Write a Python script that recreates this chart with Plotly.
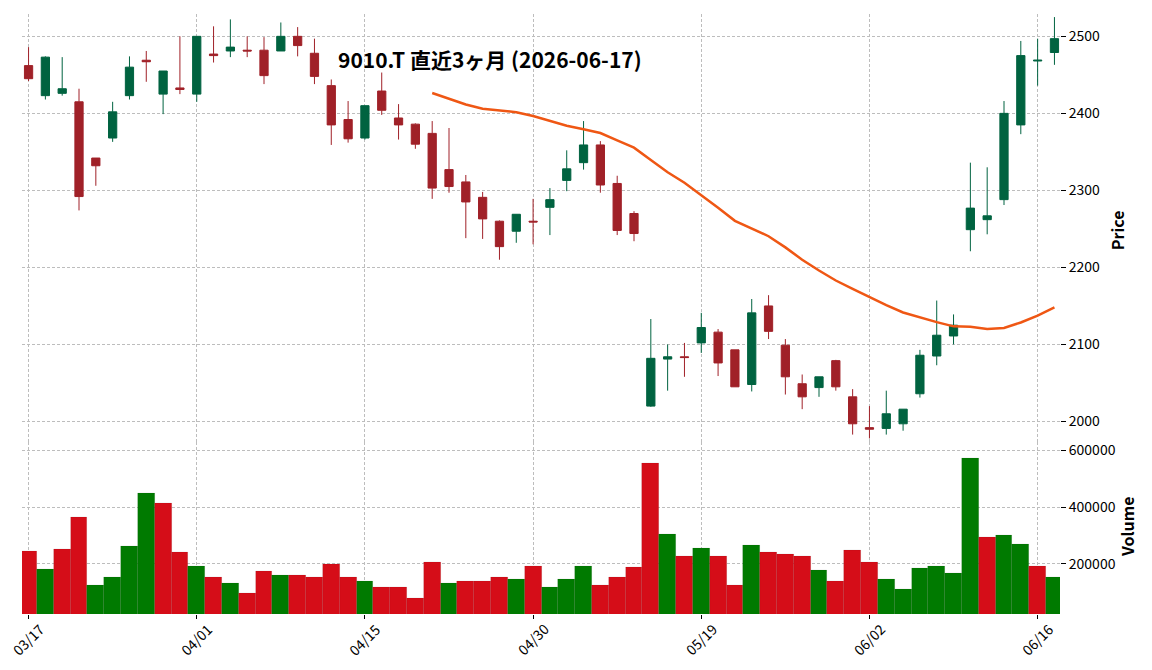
import plotly.graph_objects as go

dates = ["03/17", "03/18", "03/19", "03/23", "03/24", "03/25", "03/26", "03/27", "03/30", "03/31",
         "04/01", "04/02", "04/03", "04/06", "04/07", "04/08", "04/09", "04/10", "04/13", "04/14",
         "04/15", "04/16", "04/17", "04/20", "04/21", "04/22", "04/23", "04/24", "04/27", "04/28",
         "04/30", "05/01", "05/07", "05/08", "05/11", "05/12", "05/13", "05/14", "05/15", "05/18",
         "05/19", "05/20", "05/21", "05/22", "05/25", "05/26", "05/27", "05/28", "05/29", "06/01",
         "06/02", "06/03", "06/04", "06/05", "06/08", "06/09", "06/10", "06/11", "06/12", "06/15",
         "06/16", "06/17"]

opens = [2462, 2423, 2426, 2415, 2342, 2368, 2423, 2469, 2425, 2433,
         2425, 2477, 2481, 2482, 2482, 2481, 2500, 2478, 2436, 2392,
         2368, 2429, 2394, 2386, 2374, 2327, 2311, 2291, 2260, 2247,
         2260, 2278, 2313, 2336, 2359, 2309, 2270, 2020, 2081, 2084,
         2102, 2116, 2093, 2048, 2150, 2099, 2049, 2044, 2079, 2032,
         1992, 1991, 1997, 2036, 2085, 2111, 2249, 2262, 2288, 2385,
         2468, 2479]
highs = [2486, 2474, 2473, 2432, 2342, 2415, 2474, 2481, 2455, 2500,
         2500, 2513, 2522, 2500, 2499, 2518, 2512, 2497, 2444, 2416,
         2410, 2453, 2412, 2387, 2390, 2381, 2320, 2298, 2261, 2269,
         2289, 2303, 2352, 2390, 2364, 2319, 2273, 2133, 2100, 2102,
         2141, 2120, 2093, 2159, 2164, 2107, 2061, 2058, 2080, 2042,
         2020, 2040, 2016, 2093, 2157, 2139, 2336, 2330, 2416, 2494,
         2497, 2525]
lows = [2442, 2418, 2423, 2274, 2306, 2363, 2418, 2441, 2399, 2425,
        2415, 2466, 2473, 2473, 2438, 2481, 2474, 2438, 2359, 2362,
        2366, 2398, 2366, 2354, 2289, 2297, 2238, 2237, 2210, 2232,
        2230, 2242, 2299, 2327, 2297, 2242, 2234, 2019, 2040, 2058,
        2089, 2059, 2045, 2039, 2107, 2035, 2016, 2032, 2040, 1983,
        1978, 1983, 1988, 2031, 2073, 2100, 2221, 2243, 2281, 2373,
        2436, 2463]
closes = [2445, 2473, 2432, 2292, 2332, 2402, 2460, 2467, 2455, 2431,
          2500, 2475, 2486, 2481, 2449, 2500, 2488, 2448, 2385, 2367,
          2410, 2404, 2385, 2360, 2303, 2305, 2285, 2263, 2227, 2269,
          2259, 2288, 2328, 2359, 2307, 2248, 2244, 2082, 2084, 2083,
          2122, 2076, 2045, 2141, 2117, 2058, 2032, 2058, 2045, 1997,
          1990, 2010, 2016, 2086, 2112, 2125, 2277, 2267, 2400, 2475,
          2469, 2497]
volumes = [246000, 182000, 253000, 365000, 123000, 154000, 263000, 449000, 414000, 242000,
           193000, 154000, 130000, 95000, 175000, 158000, 158000, 154000, 200000, 151000,
           137000, 116000, 116000, 77000, 204000, 130000, 137000, 137000, 151000, 144000,
           193000, 119000, 147000, 193000, 123000, 154000, 189000, 554000, 305000, 228000,
           256000, 228000, 126000, 267000, 242000, 235000, 228000, 179000, 137000, 249000,
           207000, 144000, 109000, 186000, 193000, 168000, 572000, 295000, 302000, 270000,
           193000, 154000]
# 25-day moving average (starts at the 25th session)
ma25 = [2426.5, 2419, 2411.5, 2406, 2404, 2401.5, 2396.5, 2390, 2384, 2379.5,
        2374.5, 2365, 2355.5, 2339.5, 2323.5, 2310, 2294, 2277.5, 2260.5, 2250.5,
        2240.5, 2226, 2210, 2196, 2183, 2172, 2161, 2151, 2141.5, 2135,
        2129, 2123.5, 2123, 2120, 2121.5, 2128.5, 2137.5, 2148]
tick_labels = ["03/17", "04/01", "04/15", "04/30", "05/19", "06/02", "06/16"]
price_ticks = [2000, 2100, 2200, 2300, 2400, 2500]
volume_ticks = [200000, 400000, 600000]
title_text = "9010.T 直近3ヶ月 (2026-06-17)"

UP, DOWN = "#006340", "#A02128"
VUP, VDOWN = "#007a00", "#d50d18"
FONT = "Noto Sans CJK JP"
GRID = "#bdbdbd"
DASH = "3px,2px"

n = len(dates)
idx = list(range(n))
vol_colors = []
for i in range(n):
    ref = opens[0] if i == 0 else closes[i - 1]
    vol_colors.append(VUP if closes[i] >= ref else VDOWN)
ma_x = idx[n - len(ma25):]
tick_idx = [dates.index(t) for t in tick_labels]

fig = go.Figure()
fig.add_trace(go.Candlestick(
    x=idx, open=opens, high=highs, low=lows, close=closes,
    xaxis="x2", yaxis="y",
    increasing=dict(line=dict(color=UP, width=1), fillcolor=UP),
    decreasing=dict(line=dict(color=DOWN, width=1), fillcolor=DOWN),
    whiskerwidth=0, showlegend=False))
fig.add_trace(go.Scatter(
    x=ma_x, y=ma25, mode="lines", xaxis="x2", yaxis="y",
    line=dict(color="#ef5714", width=2.5), showlegend=False))
fig.add_trace(go.Bar(
    x=idx, y=volumes, xaxis="x", yaxis="y2", width=1.0,
    marker=dict(color=vol_colors, line=dict(color="rgba(0,0,0,0.12)", width=0.6)),
    showlegend=False))

xr = [-0.39, 61.33]
split = 0.2862
grid = dict(showgrid=True, gridcolor=GRID, griddash=DASH, gridwidth=0.8,
            zeroline=False, showline=False)
fig.update_layout(
    width=1152, height=670,
    margin=dict(l=22, r=92, t=11, b=56),
    paper_bgcolor="white", plot_bgcolor="white",
    font=dict(family=FONT, size=13, color="#000000"),
    bargap=0,
    xaxis=dict(domain=[0, 1], anchor="y2", range=xr, tickmode="array",
               tickvals=tick_idx, ticktext=["" for _ in tick_idx],
               showticklabels=False, ticks="outside", ticklen=4, tickcolor="#000", **grid),
    xaxis2=dict(domain=[0, 1], anchor="y", matches="x", tickmode="array",
                tickvals=tick_idx, showticklabels=False, ticks="",
                rangeslider=dict(visible=False), **grid),
    yaxis=dict(domain=[split, 1], anchor="x2", side="right", range=[1973, 2529],
               tickmode="array", tickvals=price_ticks, ticks="outside", ticklen=5,
               tickcolor="#000", tickfont=dict(size=14), **grid),
    yaxis2=dict(domain=[0, split], anchor="x", side="right", range=[23100, 629000],
                tickmode="array", tickvals=volume_ticks, tickformat="d", ticks="outside",
                ticklen=5, tickcolor="#000", tickfont=dict(size=14), **grid),
)

for t, i in zip(tick_labels, tick_idx):
    fig.add_annotation(x=i, xref="x", y=-0.0424, yref="paper", text=t,
                       textangle=-45, showarrow=False, xanchor="center", yanchor="middle",
                       font=dict(size=14))

fig.add_annotation(x=1.0544, y=0.6404, xref="paper", yref="paper", text="<b>Price</b>",
                   textangle=-90, showarrow=False, xanchor="center", yanchor="middle",
                   font=dict(size=16))
fig.add_annotation(x=1.0645, y=0.1465, xref="paper", yref="paper", text="<b>Volume</b>",
                   textangle=-90, showarrow=False, xanchor="center", yanchor="middle",
                   font=dict(size=16))
fig.add_annotation(x=0.4511, y=0.9254, xref="paper", yref="paper", text="<b>" + title_text + "</b>",
                   showarrow=False, xanchor="center", yanchor="middle",
                   font=dict(size=21))

fig.write_html("out.html")
